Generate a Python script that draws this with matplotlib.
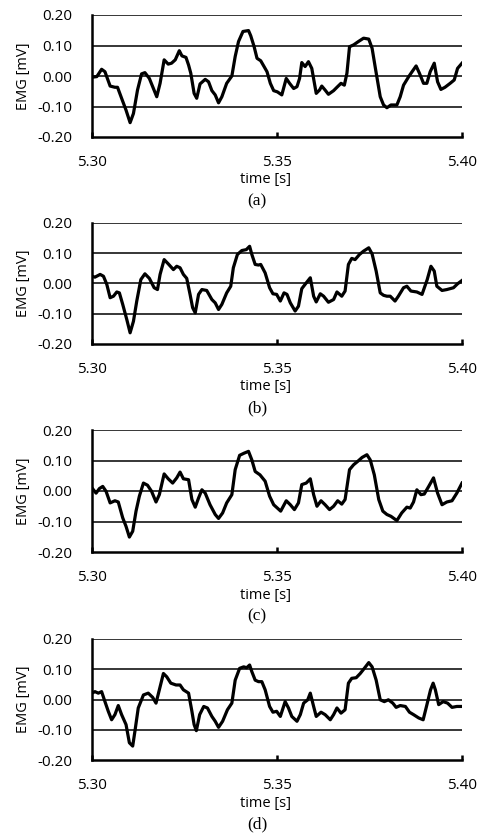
import numpy as np
import matplotlib
matplotlib.use("Agg")
import matplotlib.pyplot as plt

# time offsets in ms after 5.30 s, EMG values in mV
t_a = [0, 1.3, 2.6, 3.5, 4.9, 6.2, 6.9, 8.0, 9.2, 10.3, 11.2, 12.3, 13.4, 14.3, 15.5, 17.5,
       18.4, 19.5, 20.6, 21.5, 22.5, 23.6, 24.3, 25.4, 26.1, 26.7, 27.6, 28.3, 29.2, 30.6,
       31.5, 32.4, 33.3, 34.2, 35.1, 36.4, 37.8, 38.7, 39.6, 40.8, 42.3, 42.9, 43.8, 44.6,
       45.6, 46.5, 47.3, 48.2, 49.1, 50.1, 51.3, 52.5, 53.4, 54.5, 55.4, 56.1, 56.7, 57.6,
       58.5, 59.4, 60.6, 61.5, 62.1, 63.0, 63.9, 65.3, 66.2, 67.3, 68.2, 68.9, 69.6, 70.7,
       72.0, 73.4, 74.8, 75.7, 76.6, 77.9, 78.8, 79.7, 80.8, 82.4, 83.3, 84.2, 85.6, 86.5,
       87.6, 88.5, 89.6, 90.5, 91.4, 92.5, 93.4, 94.3, 95.4, 96.8, 97.9, 98.8, 100]
emg_a = [-0.004, -0.002, 0.022, 0.014, -0.033, -0.037, -0.037, -0.073, -0.112, -0.153, -0.123,
         -0.046, 0.007, 0.011, -0.008, -0.068, -0.024, 0.053, 0.039, 0.042, 0.053, 0.083, 0.066,
         0.061, 0.036, 0.009, -0.057, -0.073, -0.026, -0.011, -0.019, -0.048, -0.062, -0.088,
         -0.068, -0.024, 0.0, 0.064, 0.113, 0.146, 0.149, 0.132, 0.097, 0.058, 0.050, 0.031,
         0.014, -0.024, -0.048, -0.052, -0.062, -0.008, -0.024, -0.041, -0.035, -0.008, 0.044,
         0.031, 0.047, 0.025, -0.057, -0.046, -0.033, -0.046, -0.060, -0.048, -0.037, -0.024,
         -0.030, 0.009, 0.096, 0.102, 0.113, 0.124, 0.121, 0.091, 0.025, -0.068, -0.095, -0.104,
         -0.095, -0.095, -0.068, -0.030, -0.002, 0.014, 0.033, 0.009, -0.024, -0.024, 0.014,
         0.042, -0.019, -0.044, -0.037, -0.024, -0.013, 0.025, 0.042]

t_b = [0, 0.8, 2.2, 3.1, 4.0, 4.9, 5.8, 6.7, 7.4, 8.3, 9.4, 10.3, 11.2, 12.1, 13.2, 14.3, 15.5,
       16.8, 17.7, 18.4, 19.5, 20.6, 22.0, 22.9, 23.8, 24.7, 25.6, 26.5, 27.2, 27.9, 28.8, 29.7,
       31.0, 32.4, 33.3, 34.2, 35.1, 36.4, 37.5, 38.2, 39.3, 40.5, 41.7, 42.6, 43.2, 44.1, 45.0,
       45.6, 46.8, 48.0, 48.9, 49.9, 50.9, 51.9, 52.7, 53.6, 54.9, 55.8, 56.7, 57.9, 59.0, 59.9,
       60.6, 61.7, 62.6, 63.9, 65.3, 66.2, 67.5, 68.4, 69.3, 70.2, 71.1, 72.3, 73.4, 74.8, 75.7,
       76.8, 77.9, 78.8, 79.7, 80.6, 81.9, 82.8, 84.2, 85.1, 86.2, 87.8, 89.2, 90.6, 91.6, 92.5,
       93.2, 94.6, 95.9, 97.7, 98.8, 100]
emg_b = [0.024, 0.021, 0.030, 0.024, -0.003, -0.047, -0.042, -0.028, -0.031, -0.069, -0.119,
         -0.163, -0.125, -0.058, 0.013, 0.032, 0.017, -0.014, -0.020, 0.030, 0.079, 0.065, 0.046,
         0.057, 0.052, 0.030, 0.017, -0.036, -0.080, -0.097, -0.036, -0.020, -0.023, -0.053,
         -0.064, -0.086, -0.069, -0.031, -0.009, 0.052, 0.096, 0.109, 0.112, 0.123, 0.096, 0.063,
         0.061, 0.063, 0.035, -0.014, -0.034, -0.036, -0.058, -0.031, -0.036, -0.064, -0.091,
         -0.075, -0.017, 0.002, 0.019, -0.042, -0.061, -0.034, -0.042, -0.062, -0.053, -0.028,
         -0.042, -0.025, 0.063, 0.083, 0.079, 0.096, 0.107, 0.118, 0.098, 0.041, -0.031, -0.039,
         -0.042, -0.042, -0.058, -0.042, -0.014, -0.009, -0.025, -0.028, -0.036, 0.013, 0.057,
         0.041, -0.009, -0.023, -0.020, -0.014, -0.001, 0.010]

t_c = [0, 1.1, 2.0, 2.9, 3.8, 4.9, 6.2, 7.1, 8.3, 9.2, 10.1, 11.0, 11.9, 12.8, 13.9, 15.0, 16.1,
       17.3, 18.2, 19.5, 20.6, 21.8, 22.9, 23.8, 24.7, 26.1, 27.0, 27.9, 28.8, 29.7, 30.6, 31.9,
       33.3, 34.2, 35.3, 36.4, 37.8, 38.7, 39.9, 41.1, 42.3, 43.2, 44.1, 45.4, 46.8, 48.0, 49.1,
       50.1, 51.0, 52.5, 53.6, 54.7, 55.8, 56.7, 57.9, 59.0, 59.9, 60.8, 61.9, 63.0, 64.2, 65.3,
       66.4, 67.5, 68.4, 69.6, 70.7, 71.8, 73.0, 74.3, 75.2, 76.3, 77.5, 78.6, 79.7, 80.8, 82.4,
       83.7, 85.1, 86.0, 86.9, 87.8, 88.9, 89.8, 91.0, 92.3, 93.4, 94.6, 95.9, 97.3, 98.6, 100]
emg_c = [0.010, -0.007, 0.008, 0.015, -0.001, -0.039, -0.032, -0.036, -0.088, -0.116, -0.151,
         -0.132, -0.066, -0.017, 0.026, 0.019, -0.001, -0.036, -0.012, 0.056, 0.040, 0.026, 0.043,
         0.062, 0.040, 0.037, -0.028, -0.053, -0.023, 0.004, -0.007, -0.045, -0.077, -0.090,
         -0.072, -0.039, -0.012, 0.070, 0.117, 0.124, 0.130, 0.102, 0.064, 0.053, 0.032, -0.017,
         -0.045, -0.056, -0.066, -0.032, -0.045, -0.061, -0.039, 0.021, 0.026, 0.040, -0.012,
         -0.050, -0.032, -0.045, -0.061, -0.050, -0.032, -0.043, -0.028, 0.070, 0.086, 0.097,
         0.110, 0.119, 0.102, 0.053, -0.028, -0.066, -0.077, -0.083, -0.097, -0.072, -0.053,
         -0.056, -0.036, 0.004, -0.012, -0.010, 0.015, 0.043, -0.007, -0.045, -0.036, -0.032,
         -0.007, 0.026]

t_d = [0, 0.8, 1.7, 2.6, 3.5, 4.4, 5.3, 6.2, 7.1, 8.0, 9.2, 10.1, 11.0, 11.6, 12.5, 13.9, 15.2,
       16.4, 17.3, 18.2, 19.3, 20.2, 21.3, 22.7, 23.8, 24.7, 26.1, 27.0, 27.6, 28.2, 29.1, 30.2,
       31.2, 32.4, 33.3, 34.2, 35.3, 36.6, 37.8, 38.7, 39.9, 41.0, 41.8, 42.6, 43.2, 44.1, 45.0,
       45.9, 46.8, 48.0, 48.9, 49.9, 50.9, 52.2, 53.1, 54.0, 55.4, 56.3, 57.2, 58.3, 59.0, 59.9,
       60.6, 61.9, 63.0, 64.4, 65.3, 66.2, 67.3, 68.4, 69.3, 70.2, 71.4, 72.5, 73.6, 74.8, 75.7,
       76.8, 77.9, 79.0, 80.1, 81.3, 82.2, 83.3, 84.7, 85.8, 86.9, 88.3, 89.5, 90.4, 91.5, 92.2,
       92.8, 93.7, 94.9, 96.1, 97.3, 98.6, 100]
emg_d = [0.021, 0.026, 0.021, 0.026, -0.007, -0.039, -0.067, -0.050, -0.020, -0.050, -0.083,
         -0.143, -0.154, -0.105, -0.028, 0.015, 0.021, 0.007, -0.012, 0.032, 0.086, 0.075, 0.054,
         0.048, 0.048, 0.032, 0.021, -0.039, -0.083, -0.103, -0.050, -0.023, -0.028, -0.056,
         -0.072, -0.092, -0.072, -0.034, -0.012, 0.064, 0.103, 0.108, 0.105, 0.114, 0.092, 0.064,
         0.059, 0.059, 0.032, -0.023, -0.042, -0.039, -0.056, -0.007, -0.028, -0.056, -0.072,
         -0.050, -0.012, -0.001, 0.021, -0.023, -0.056, -0.042, -0.050, -0.067, -0.050, -0.028,
         -0.045, -0.034, 0.054, 0.070, 0.072, 0.086, 0.103, 0.122, 0.108, 0.064, -0.001, -0.007,
         -0.001, -0.012, -0.026, -0.020, -0.023, -0.042, -0.050, -0.061, -0.067, -0.023, 0.032,
         0.054, 0.032, -0.017, -0.007, -0.012, -0.026, -0.023, -0.023]

panels = [("(a)", t_a, emg_a), ("(b)", t_b, emg_b), ("(c)", t_c, emg_c), ("(d)", t_d, emg_d)]
y_ticks = [-0.20, -0.10, 0.00, 0.10, 0.20]
x_ticks = [5.30, 5.35, 5.40]

W, H = 495, 836
fig = plt.figure(figsize=(W / 100, H / 100), dpi=100)
sans = "Open Sans"

# axes tops/bottoms in pixels
boxes = [(15, 137), (223, 344), (430, 552), (639, 760)]
left, right = 92, 462

for (cap, t, v), (top, bot) in zip(panels, boxes):
    ax = fig.add_axes([left / W, 1 - bot / H, (right - left) / W, (bot - top) / H])
    time = 5.30 + np.array(t) / 1000.0
    ax.plot(time, v, color="black", lw=2.3, solid_joinstyle="round")
    ax.set_xlim(5.30, 5.40)
    ax.set_ylim(-0.20, 0.20)
    ax.set_yticks(y_ticks)
    ax.set_yticklabels([f"{y:.2f}" for y in y_ticks], fontfamily=sans, fontsize=11)
    ax.set_xticks(x_ticks)
    ax.set_xticklabels([f"{x:.2f}" for x in x_ticks], fontfamily=sans, fontsize=11)
    for y in [-0.10, 0.00, 0.10, 0.20]:
        ax.axhline(y, color="black", lw=1.1, zorder=1)
    for s in ["top", "right"]:
        ax.spines[s].set_visible(False)
    for s in ["left", "bottom"]:
        ax.spines[s].set_linewidth(1.8)
    ax.tick_params(axis="y", length=0, pad=14)
    ax.tick_params(axis="x", direction="in", length=3.6, width=1.8, pad=13)
    ax.set_xlabel("time [s]", fontfamily=sans, fontsize=10.5, va="center")
    ax.xaxis.set_label_coords((265 - left) / (right - left), -43 / (bot - top))
    ax.set_ylabel("EMG [mV]", fontfamily=sans, fontsize=10.5, va="center")
    ax.yaxis.set_label_coords((24 - left) / (right - left), 0.5)
    fig.text(257 / W, 1 - (bot + 64) / H, cap, ha="center", va="center",
             fontfamily="Liberation Serif", fontsize=12.5)

fig.savefig("out.png", dpi=100)
